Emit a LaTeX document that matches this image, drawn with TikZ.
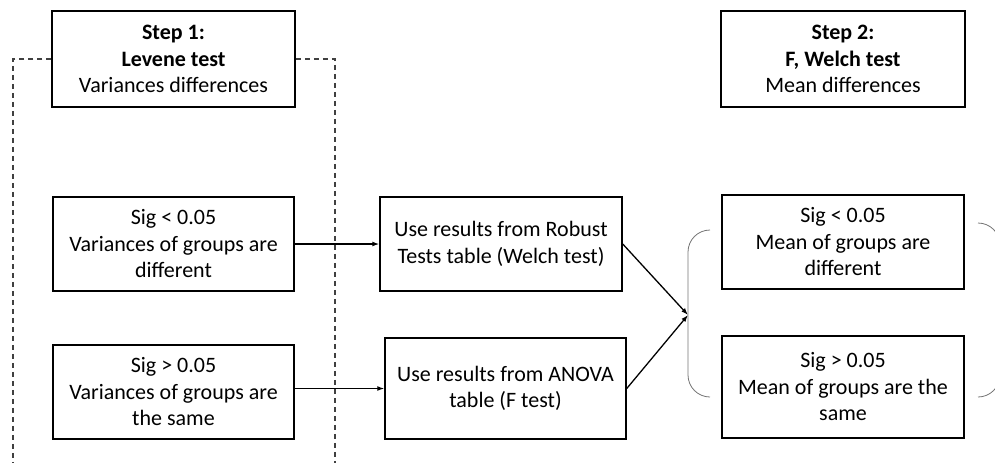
\documentclass[tikz,border=0pt]{standalone}
\usepackage{fontspec}
\setmainfont{Carlito}
\usetikzlibrary{arrows.meta}
\begin{document}
\begin{tikzpicture}[x=1pt,y=-1pt,
  box/.style={draw, line width=1.5pt, align=center, inner sep=0pt,
    font=\fontsize{22}{26.5}\selectfont},
  link/.style={-{Latex[length=7pt,width=5pt]}, line width=1.3pt},
  frame/.style={dash pattern=on 5pt off 4pt, line width=1.2pt, draw=black!75},
  bracket/.style={draw=black!55, line width=0.8pt}]
\useasboundingbox (0,0) rectangle (995,463);

% step headers
\node[box, minimum width=243pt, minimum height=96pt] (s1) at (173.5,59)
  {\textbf{Step 1:}\\\textbf{Levene test}\\Variances differences};
\node[box, minimum width=244pt, minimum height=96pt] (s2) at (843,59)
  {\textbf{Step 2:}\\\textbf{F, Welch test}\\Mean differences};

% dashed frame around the Levene outcomes
\draw[frame] (s1.west) -| (13,463);
\draw[frame] (s1.east) -| (335,463);

% Levene outcomes
\node[box, minimum width=241pt, minimum height=94pt] (v1) at (173.5,244)
  {Sig < 0.05\\Variances of groups are\\different};
\node[box, minimum width=241pt, minimum height=94pt] (v2) at (173.5,392)
  {Sig > 0.05\\Variances of groups are\\the same};

% which table to read
\node[box, minimum width=242pt, minimum height=94pt] (r1) at (501,244)
  {Use results from Robust\\Tests table (Welch test)};
\node[box, minimum width=241pt, minimum height=101pt] (r2) at (505.5,388.5)
  {Use results from ANOVA\\table (F test)};

% mean comparison outcomes
\node[box, minimum width=242pt, minimum height=94pt] (m1) at (843,242)
  {Sig < 0.05\\Mean of groups are\\different};
\node[box, minimum width=242pt, minimum height=102pt] (m2) at (843,387)
  {Sig > 0.05\\Mean of groups are the\\same};

% bracket pair around the mean outcomes
\coordinate (join) at (688,315);
\begin{scope}
  \clip (0,0) rectangle (995,463);
  \draw[bracket] (710,230) arc[start angle=90, end angle=180, radius=22pt]
    -- (688,375) arc[start angle=180, end angle=270, radius=22pt];
  \draw[bracket] (978,223) arc[start angle=90, end angle=0, radius=22pt]
    -- (1000,375) arc[start angle=0, end angle=-90, radius=22pt];
\end{scope}

% connectors
\draw[link] (v1.east) -- (r1.west);
\draw[link] (r2.west -| v2.east) -- (r2.west);
\draw[link] (r1.east) -- (join);
\draw[link] (r2.east) -- (join);
\end{tikzpicture}
\end{document}
